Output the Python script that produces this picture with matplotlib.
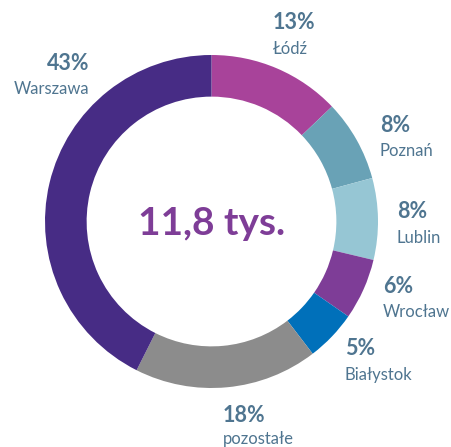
import matplotlib
matplotlib.use("Agg")
import matplotlib.pyplot as plt

categories = ["Łódź", "Poznań", "Lublin", "Wrocław", "Białystok", "pozostałe", "Warszawa"]
shares = [13, 8, 8, 6, 5, 18, 43]
colors = ["#A8439A", "#69A2B6", "#96C6D4", "#7E3D97", "#0070BA", "#8C8C8C", "#472C85"]
center_label = "11,8 tys."

W, H = 452, 447
fig = plt.figure(figsize=(W / 100, H / 100), dpi=100)
ax = fig.add_axes([0, 0, 1, 1])

cx, cy, R = 211.5, H - 221.5, 166.5
ax.pie(shares, colors=colors, startangle=90, counterclock=False,
       center=(cx, cy), radius=R, frame=True,
       wedgeprops=dict(width=R * 0.25, linewidth=0))
ax.set_xlim(0, W)
ax.set_ylim(0, H)
ax.set_aspect("equal")
ax.axis("off")

font = ["Lato", "DejaVu Sans"]
tc = "#4F7590"

# label anchors in pixel coords: (x, baseline of %, baseline of name, ha)
label_pos = {
    "Warszawa": (89, 70, 94, "right"),
    "Łódź": (273, 29, 54, "left"),
    "Poznań": (380, 132, 156, "left"),
    "Lublin": (397, 218, 243, "left"),
    "Wrocław": (383, 293, 317, "left"),
    "Białystok": (345, 355, 380, "left"),
    "pozostałe": (223, 422, 444, "left"),
}
for cat, val in zip(categories, shares):
    x, yb1, yb2, ha = label_pos[cat]
    ax.text(x, H - yb1, f"{val}%", ha=ha, va="baseline", fontsize=15.5,
            fontweight="bold", color=tc, family=font)
    ax.text(x, H - yb2, cat, ha=ha, va="baseline", fontsize=12,
            color=tc, family=font)

ax.text(212, H - 235, center_label, ha="center", va="baseline", fontsize=28,
        fontweight="bold", color="#7E3D97", family=font)

fig.savefig("out.png", dpi=100)
